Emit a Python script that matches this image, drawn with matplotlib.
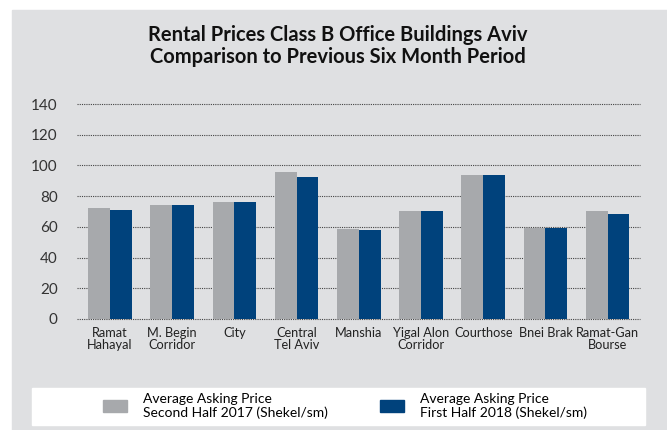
import matplotlib.pyplot as plt
from matplotlib.patches import Rectangle, Patch
import numpy as np

plt.rcParams['font.family'] = ['Lato', 'DejaVu Sans']

areas = ['Ramat\nHahayal', 'M. Begin\nCorridor', 'City', 'Central\nTel Aviv', 'Manshia',
         'Yigal Alon\nCorridor', 'Courthose', 'Bnei Brak', 'Ramat-Gan\nBourse']
h2_2017 = [72.3, 74.2, 76.2, 95.7, 58.6, 70.3, 93.8, 59.5, 70.3]
h1_2018 = [71.0, 74.2, 76.2, 92.4, 58.0, 70.3, 93.8, 59.5, 68.4]
yticks = [0, 20, 40, 60, 80, 100, 120, 140]

label_2017 = 'Average Asking Price\nSecond Half 2017 (Shekel/sm)'
label_2018 = 'Average Asking Price\nFirst Half 2018 (Shekel/sm)'

grey = '#a7a9ac'
blue = '#00427c'
panel = '#dfe0e2'

fig = plt.figure(figsize=(6.67, 4.30), dpi=100)
fig.patch.set_facecolor('white')

# grey background panel and white legend strip
fig.patches.append(Rectangle((12 / 667, 0), 655 / 667, 420 / 430,
                             transform=fig.transFigure, color=panel, zorder=-10))
fig.patches.append(Rectangle((32 / 667, 5 / 430), 613 / 667, 37 / 430,
                             transform=fig.transFigure, color='white', zorder=-9))

ax = fig.add_axes([77 / 667, 1 - 319 / 430, 563 / 667, 215 / 430])
ax.set_facecolor('none')

x = np.arange(len(areas))
w = 0.35
ax.bar(x - w / 2, h2_2017, w, color=grey, zorder=3)
ax.bar(x + w / 2, h1_2018, w, color=blue, zorder=3)

ax.set_xlim(-0.53, len(areas) - 1 + 0.52)
ax.set_ylim(0, 140)
ax.set_yticks(yticks)
for t in yticks:
    ax.axhline(t, color='#444444', lw=0.8, ls=(0, (1, 1)), zorder=2, clip_on=False)

ax.set_xticks(x)
ax.set_xticklabels(areas, fontsize=9.2, linespacing=0.95, color='#222222')
ax.tick_params(axis='x', length=0, pad=6)
ax.tick_params(axis='y', length=0, pad=14, labelsize=11, labelcolor='#333333')
for s in ax.spines.values():
    s.set_visible(False)

fig.text(0.507, 1 - 46 / 430, 'Rental Prices Class B Office Buildings Aviv\n'
         'Comparison to Previous Six Month Period',
         ha='center', va='center', fontsize=14.5, fontweight='bold',
         linespacing=1.12, color='#111111')

handles = [Patch(color=grey), Patch(color=blue)]
fig.legend(handles, [label_2017, label_2018], ncol=2, loc='center',
           bbox_to_anchor=(0.517, 1 - 406 / 430), frameon=False,
           fontsize=10, handlelength=1.75, handleheight=1.0,
           handletextpad=1.15, columnspacing=3.75, labelspacing=0)

fig.savefig('out.png', dpi=100)
